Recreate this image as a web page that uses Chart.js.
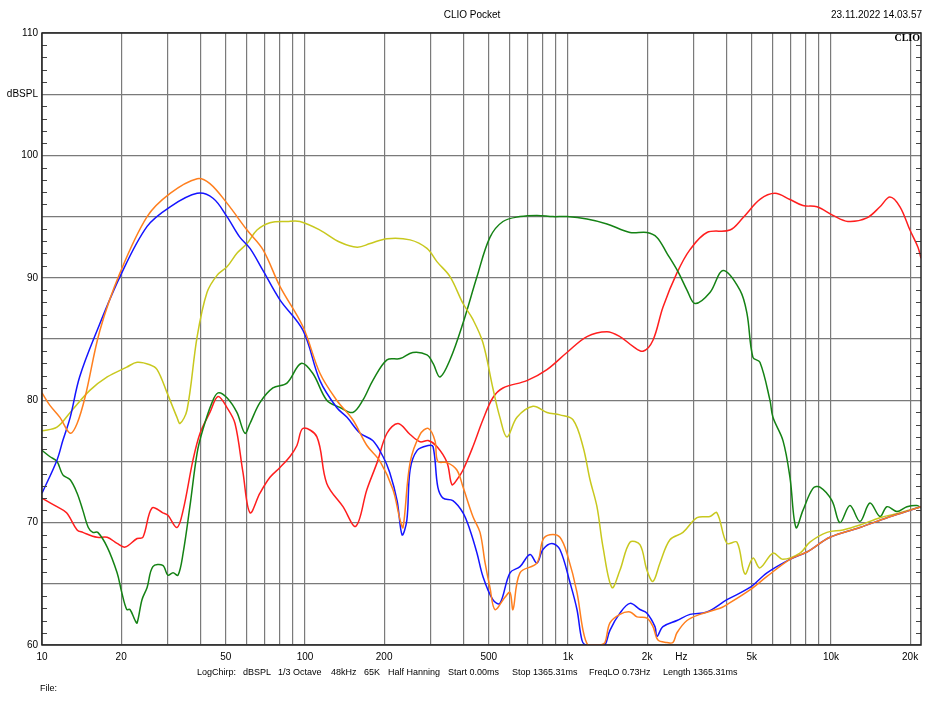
<!DOCTYPE html>
<html>
<head>
<meta charset="utf-8">
<title>CLIO Pocket</title>
<script src="https://cdn.jsdelivr.net/npm/chart.js@4.4.1/dist/chart.umd.min.js"></script>
<style>
    html, body { margin: 0; padding: 0; background: #fff; }
    #wrap { width: 945px; height: 710px; }
</style>
</head>
<body>
<div id="wrap"><canvas id="graphic" width="945" height="710"></canvas></div>
<script>
// Measured curves, [frequency Hz, level dBSPL]
const orangeCurve = [
    [10,80.6],[10.7,79.6],[11.7,78.6],[12.8,77.3],[13.6,78.1],[14.6,80.3],[16.6,85.7],[19.8,90.4],
    [25.1,95.0],[30.7,96.9],[38.9,98.1],[43.5,97.7],[50.5,96.1],[60.2,93.9],[69.2,92.3],[80.3,89.3],
    [98.3,86.0],[114,82.2],[132,80.0],[152,78.4],[172,76.3],[193,75.0],[216,72.7],[230,70.2],[236,69.6],
    [251,74.9],[274,77.2],[294,77.7],[312,76.7],[320,75.0],[347,74.9],[378,74.3],[399,72.9],[435,70.5],
    [463,69.2],[484,66.7],[505,64.7],[528,62.9],[576,63.9],[602,64.3],[618,62.9],[657,65.9],[762,66.7],
    [803,68.6],[854,69.0],[932,68.8],[1000,67.2],[1082,64.3],[1141,61.2],[1191,60.0],[1260,60.0],
    [1330,60.0],[1383,60.2],[1444,61.8],[1576,62.5],[1721,62.7],[1830,62.3],[1997,62.2],[2105,61.5],
    [2199,60.4],[2379,60.2],[2507,60.2],[2597,61.0],[2835,62.0],[3177,62.5],[3784,63.0],[4023,63.3],
    [4920,64.5],[5711,65.6],[6984,67.0],[8105,67.6],[9913,68.8],[12890,69.6],[16330,70.4],[19970,71.0],
    [22000,71.3]
];

const blueCurve = [
    [10,72.4],[11.4,75.1],[12.0,76.7],[12.8,78.6],[13.9,81.9],[16.2,85.7],[19.8,90.1],[25.1,94.2],
    [30.7,95.8],[38.9,96.9],[44.7,96.5],[50.5,95.0],[56.6,93.3],[61.8,92.4],[69.2,90.6],[80.3,88.2],
    [98.3,85.7],[114,81.6],[132,79.4],[144.5,78.6],[162,77.3],[181,76.7],[198,75.4],[210,74.1],[224,71.8],
    [234,69.0],[244,70.2],[251,74.3],[267,75.9],[294,76.3],[307,76.2],[320,72.9],[335,72.0],[365,71.8],
    [399,70.8],[424,69.4],[451,67.5],[475,65.6],[518,63.7],[551,63.4],[602,65.9],[657,66.4],[717,67.4],
    [762,66.7],[803,67.8],[869,68.3],[932,67.8],[1018,65.1],[1082,62.9],[1130,60.4],[1170,60.0],
    [1330,60.0],[1383,60.0],[1444,61.2],[1576,62.6],[1721,63.4],[1878,62.9],[1997,62.6],[2142,61.5],
    [2180,60.7],[2297,61.5],[2597,62.0],[2911,62.5],[3377,62.7],[4023,63.7],[4920,64.7],[5711,65.9],
    [6984,67.0],[8105,67.6],[9913,68.8],[12890,69.6],[16330,70.4],[19970,71.0],[22000,71.3]
];

const yellowCurve = [
    [10,77.5],[11.4,77.8],[12.8,79.0],[15.2,80.8],[17.7,81.9],[21.0,82.7],[23.0,83.1],[25.7,82.9],
    [27.4,82.5],[29.9,80.6],[32.6,78.6],[33.5,78.1],[35.6,79.2],[38.9,85.2],[42.4,88.8],[46.3,90.2],
    [50.5,90.9],[55.1,92.0],[60.2,92.8],[65.7,93.9],[73.6,94.5],[85.4,94.6],[95.7,94.6],[114,93.9],
    [136,92.9],[158,92.5],[177,92.8],[205,93.2],[251,93.1],[291,92.4],[318,91.3],[356,90.1],[399,87.9],
    [435,86.6],[475,84.7],[518,81.0],[551,78.6],[586,77.0],[640,78.6],[736,79.5],[832,79.0],[932,78.8],
    [1045,78.4],[1141,76.2],[1213,73.5],[1289,71.3],[1359,68.0],[1470,64.7],[1576,66.1],[1721,68.4],
    [1878,68.2],[1997,66.1],[2105,65.2],[2238,66.7],[2442,68.6],[2737,69.2],[3095,70.4],[3467,70.5],
    [3686,70.8],[4023,68.3],[4391,68.4],[4710,65.8],[5051,67.1],[5370,66.3],[6018,67.5],[6570,67.0],
    [7623,67.5],[8318,68.4],[9656,69.2],[11106,69.4],[12890,69.8],[15360,70.4],[18300,70.8],[22000,71.3]
];

const greenCurve = [
    [10,75.9],[10.7,75.4],[11.4,75.0],[12.0,73.9],[12.8,73.5],[13.6,72.4],[14.3,71.0],[15.0,69.6],
    [15.6,69.2],[16.3,69.2],[17.7,68.0],[19.3,65.9],[20.1,64.3],[21.0,62.9],[21.6,62.9],[22.6,62.0],
    [23.0,61.8],[24.0,63.7],[25.1,64.7],[26.4,66.4],[28.8,66.5],[30.1,65.7],[31.5,65.9],[32.9,65.7],
    [34.4,67.5],[36.5,71.3],[38.9,75.7],[40.9,77.6],[44.3,79.8],[46.7,80.6],[50.5,80.2],[55.1,79.0],
    [59.1,77.3],[61.8,78.1],[67.4,79.8],[75.5,81.0],[85.4,81.4],[96.6,83.0],[107,82.2],[121,80.0],
    [136,79.4],[152,79.0],[166,80.0],[181,81.6],[205,83.3],[230,83.4],[257,83.9],[291,83.7],[307,83.0],
    [326,81.9],[356,83.3],[399,86.3],[451,90.1],[505,93.3],[566,94.6],[657,95.0],[762,95.1],[877,95.0],
    [991,95.0],[1181,94.8],[1407,94.4],[1721,93.7],[1997,93.7],[2180,93.3],[2379,92.0],[2620,90.5],
    [2835,89.0],[3041,87.9],[3467,88.8],[3885,90.6],[4508,89.0],[4793,87.1],[5051,83.5],[5370,83.1],
    [5862,80.0],[6018,78.6],[6570,76.7],[6984,73.7],[7361,69.6],[7826,71.0],[8543,72.8],[9082,72.9],
    [10088,71.8],[10820,70.0],[11810,71.4],[12890,70.1],[14070,71.6],[15360,70.5],[16330,71.3],
    [17820,70.9],[19450,71.3],[21230,71.4],[22000,71.2]
];

const redCurve = [
    [10,72.0],[11.4,71.3],[12.4,70.8],[13.6,69.4],[14.3,69.2],[16.2,68.8],[17.7,68.8],[19.3,68.3],
    [20.7,68.0],[23.0,68.7],[24.2,68.8],[26.2,71.2],[28.8,70.8],[30.1,70.6],[32.6,69.6],[34.4,71.0],
    [37.5,75.1],[39.9,77.3],[43.5,79.0],[46.7,80.3],[50.5,79.4],[54.2,78.1],[58.1,74.1],[61.8,70.8],
    [67.4,72.4],[73.6,73.7],[80.3,74.5],[87.7,75.4],[93.2,76.3],[98.3,77.7],[111,77.0],[121,73.2],
    [139.5,71.3],[156,69.7],[172,72.7],[188,74.9],[205,77.3],[226,78.1],[251,77.2],[274,76.6],[294,76.7],
    [318,76.2],[347,74.9],[362,73.1],[378,73.5],[399,74.3],[435,76.2],[475,78.4],[518,80.2],[566,81.0],
    [698,81.6],[832,82.5],[991,83.9],[1181,85.2],[1407,85.6],[1576,85.2],[1767,84.4],[1929,84.0],
    [2105,84.9],[2297,87.6],[2597,90.4],[2911,92.3],[3377,93.7],[4130,93.9],[4627,94.9],[5370,96.4],
    [6124,96.9],[6984,96.4],[7826,95.9],[8848,95.8],[10176,95.1],[11600,94.6],[13705,94.9],[15360,95.8],
    [16760,96.6],[18300,95.8],[19970,93.9],[21420,92.5],[22000,91.6]
];

// Axis grid and labels
const gridFreqs = [10,20,30,40,50,60,70,80,90,100,200,300,400,500,600,700,800,900,
    1000,2000,3000,4000,5000,6000,7000,8000,9000,10000,20000];
const labelFreqs = [10,20,50,100,200,500,1000,2000,5000,10000,20000];
const labelTexts = ['10','20','50','100','200','500','1k','2k','5k','10k','20k'];
const levelTicks = [60,65,70,75,80,85,90,95,100,105,110];
const levelLabels = ['60','','70','','80','','90','','100','dBSPL','110'];

const infoItems = ['LogChirp:','dBSPL','1/3 Octave','48kHz','65K','Half Hanning','Start 0.00ms',
    'Stop 1365.31ms','FreqLO 0.73Hz','Length 1365.31ms'];
const infoX = [197,243,278,331,364,388,448,512,589,663];

const toPoints = (curve) => curve.map(([f, db]) => ({ x: f, y: db }));

const makeDataset = (label, curve, color) => ({
    label: label,
    data: toPoints(curve),
    borderColor: color,
    borderWidth: 1.5,
    pointRadius: 0,
    tension: 0.35,
    fill: false,
    clip: 0,
});

const textFont = '10px "Liberation Sans", Arial, sans-serif';
const infoFont = '9px "Liberation Sans", Arial, sans-serif';

const clioPlugin = {
    id: 'clioPlugin',
    beforeDraw(chart) {
        const ctx = chart.ctx;
        ctx.save();
        ctx.fillStyle = '#fff';
        ctx.fillRect(0, 0, chart.width, chart.height);
        ctx.restore();
    },
    afterDatasetsDraw(chart) {
        const ctx = chart.ctx;
        const area = chart.chartArea;
        const yScale = chart.scales.y;
        ctx.save();
        // minor ticks every dB, inside both sides
        ctx.strokeStyle = '#444';
        ctx.lineWidth = 1;
        for (let v = 60; v <= 110; v++) {
            if (v % 5 === 0) continue;
            const py = Math.round(yScale.getPixelForValue(v)) + 0.5;
            ctx.beginPath();
            ctx.moveTo(area.left, py);
            ctx.lineTo(area.left + 5, py);
            ctx.moveTo(area.right - 5, py);
            ctx.lineTo(area.right, py);
            ctx.stroke();
        }
        // frame
        ctx.strokeStyle = '#222';
        ctx.lineWidth = 1.5;
        ctx.strokeRect(area.left, area.top, area.right - area.left, area.bottom - area.top);
        // CLIO mark
        ctx.fillStyle = '#000';
        ctx.font = 'bold 10px "Liberation Serif", "DejaVu Serif", serif';
        ctx.textAlign = 'right';
        ctx.textBaseline = 'middle';
        ctx.fillText('CLIO', area.right - 1, area.top + 5);
        ctx.restore();
    },
    afterDraw(chart) {
        const ctx = chart.ctx;
        const area = chart.chartArea;
        const xScale = chart.scales.x;
        ctx.save();
        ctx.fillStyle = '#000';
        ctx.font = textFont;
        ctx.textBaseline = 'middle';
        ctx.textAlign = 'center';
        ctx.fillText('CLIO Pocket', 472, 15);
        ctx.textAlign = 'right';
        ctx.fillText('23.11.2022 14.03.57', area.right + 1, 15);
        ctx.textAlign = 'center';
        ctx.fillText('Hz', xScale.getPixelForValue(2700), 657);
        ctx.textAlign = 'left';
        ctx.font = infoFont;
        infoItems.forEach((txt, i) => ctx.fillText(txt, infoX[i], 673));
        ctx.fillText('File:', 40, 689);
        ctx.restore();
    }
};

const graphicElement = document.getElementById('graphic');

const graphic = new Chart(graphicElement, {
    type: 'line',
    data: {
        datasets: [
            makeDataset('Orange', orangeCurve, '#ff7f1e'),
            makeDataset('Blue', blueCurve, '#1414ff'),
            makeDataset('Yellow', yellowCurve, '#c8c81e'),
            makeDataset('Green', greenCurve, '#148214'),
            makeDataset('Red', redCurve, '#ff1e1e'),
        ],
    },
    options: {
        responsive: false,
        animation: false,
        devicePixelRatio: 1,
        layout: { padding: { top: 33, right: 24, left: 0, bottom: 0 } },
        plugins: {
            legend: { display: false },
            tooltip: { enabled: false },
        },
        scales: {
            x: {
                type: 'logarithmic',
                min: 10,
                max: 22000,
                afterBuildTicks: (scale) => {
                    scale.ticks = gridFreqs.map(v => ({ value: v }));
                },
                afterFit: (scale) => { scale.height = 65; },
                ticks: {
                    autoSkip: false,
                    maxRotation: 0,
                    padding: 6,
                    color: '#000',
                    font: { family: '"Liberation Sans", Arial, sans-serif', size: 10 },
                    callback: (value) => {
                        const i = labelFreqs.indexOf(value);
                        return i >= 0 ? labelTexts[i] : '';
                    },
                },
                grid: { color: '#7a7a7a', lineWidth: 1.2, drawTicks: false },
                border: { display: false },
            },
            y: {
                type: 'linear',
                min: 60,
                max: 110,
                afterBuildTicks: (scale) => {
                    scale.ticks = levelTicks.map(v => ({ value: v }));
                },
                afterFit: (scale) => { scale.width = 42; },
                ticks: {
                    padding: 4,
                    color: '#000',
                    font: { family: '"Liberation Sans", Arial, sans-serif', size: 10 },
                    callback: (value) => {
                        const i = levelTicks.indexOf(value);
                        return i >= 0 ? levelLabels[i] : '';
                    },
                },
                grid: { color: '#7a7a7a', lineWidth: 1.2, drawTicks: false },
                border: { display: false },
            },
        },
    },
    plugins: [clioPlugin],
});
</script>
</body>
</html>
